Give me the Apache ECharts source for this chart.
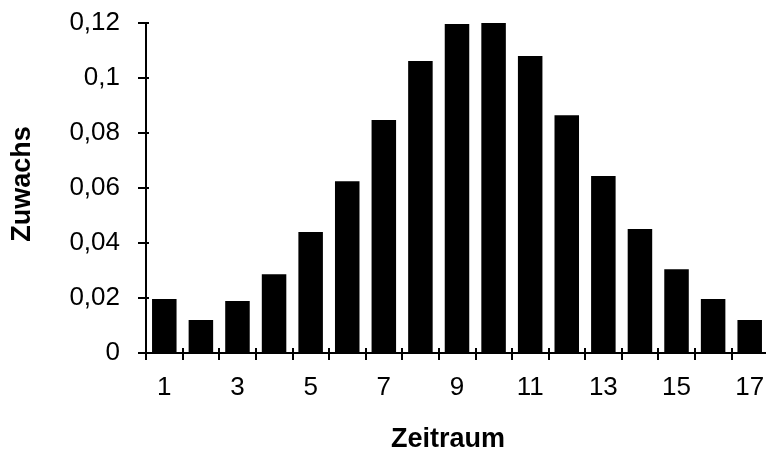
<!DOCTYPE html>
<html>
<head>
<meta charset="utf-8">
<script src="https://cdn.jsdelivr.net/npm/echarts@6/dist/echarts.min.js"></script>
<style>html,body{margin:0;padding:0;background:#fff}#c{width:766px;height:449px}</style>
</head>
<body>
<div id="c"></div>
<script>
var categories = ['1','2','3','4','5','6','7','8','9','10','11','12','13','14','15','16','17'];
var zuwachs = [0.0196, 0.012, 0.0189, 0.0286, 0.044, 0.0625, 0.0847, 0.1062, 0.1196, 0.1207, 0.108, 0.0865, 0.0644, 0.0451, 0.0305, 0.0196, 0.012];
var yTicks = {min: 0, max: 0.12, interval: 0.02};
var xTitle = 'Zeitraum';
var yTitle = 'Zuwachs';

var chart = echarts.init(document.getElementById('c'), null, {renderer: 'canvas'});
var font = '"Liberation Sans", Arial, sans-serif';
chart.setOption({
  animation: false,
  backgroundColor: '#fff',
  grid: {left: 146, right: -2, top: 23, bottom: 96, containLabel: false, outerBoundsMode: 'none'},
  xAxis: [{
    type: 'category',
    data: categories,
    boundaryGap: true,
    axisLine: {show: true, lineStyle: {color: '#000', width: 2}},
    axisTick: {show: true, inside: false, length: 7, lineStyle: {color: '#000', width: 2}, interval: 0},
    axisLabel: {interval: 1, color: '#000', fontSize: 26, fontFamily: font, margin: 22},
    name: xTitle,
    nameLocation: 'middle',
    nameGap: 73,
    nameTextStyle: {color: '#000', fontSize: 27, fontWeight: 'bold', fontFamily: font, padding: [0, 18, 0, 0]}
  }, {
    type: 'category',
    data: categories,
    position: 'bottom',
    axisLine: {show: false},
    axisTick: {show: true, inside: true, length: 5, lineStyle: {color: '#000', width: 2}, interval: 0},
    axisLabel: {show: false}
  }],
  yAxis: [{
    type: 'value',
    min: yTicks.min,
    max: yTicks.max,
    interval: yTicks.interval,
    splitLine: {show: false},
    axisLine: {show: true, lineStyle: {color: '#000', width: 2}},
    axisTick: {show: true, inside: false, length: 8, lineStyle: {color: '#000', width: 2}},
    axisLabel: {color: '#000', fontSize: 26, fontFamily: font, margin: 26,
      formatter: function (v) { return String(Math.round(v * 100) / 100).replace('.', ','); }},
    name: yTitle,
    nameLocation: 'middle',
    nameGap: 110,
    nameRotate: 90,
    nameTextStyle: {color: '#000', fontSize: 27, fontWeight: 'bold', fontFamily: font, padding: [0, 0, 0, 8]}
  }, {
    type: 'value',
    position: 'left',
    min: yTicks.min,
    max: yTicks.max,
    interval: yTicks.interval,
    splitLine: {show: false},
    axisLine: {show: false},
    axisTick: {show: true, inside: true, length: 3, lineStyle: {color: '#000', width: 2}},
    axisLabel: {show: false}
  }],
  series: [{
    type: 'bar',
    data: zuwachs,
    barCategoryGap: '33%',
    itemStyle: {color: '#000'}
  }]
});
</script>
</body>
</html>
